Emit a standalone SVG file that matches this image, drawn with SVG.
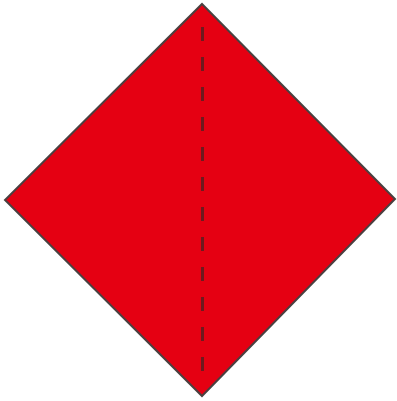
<svg xmlns="http://www.w3.org/2000/svg" width="397" height="401" viewBox="0 0 397 401">
<style>
.sq{fill:#e50012;stroke:#4a4040;stroke-width:2;stroke-linejoin:miter}
.fold{stroke:#6e1a1e;stroke-width:3;stroke-dasharray:14 16;fill:none}
</style>
<rect width="397" height="401" fill="#ffffff"/>
<g id="diamond">
<polygon class="sq" points="202,4 395,199 202,396 5,200"/>
</g>
<g id="connectors">
<line class="fold" x1="202.5" y1="27" x2="202.5" y2="380"/>
</g>
</svg>
